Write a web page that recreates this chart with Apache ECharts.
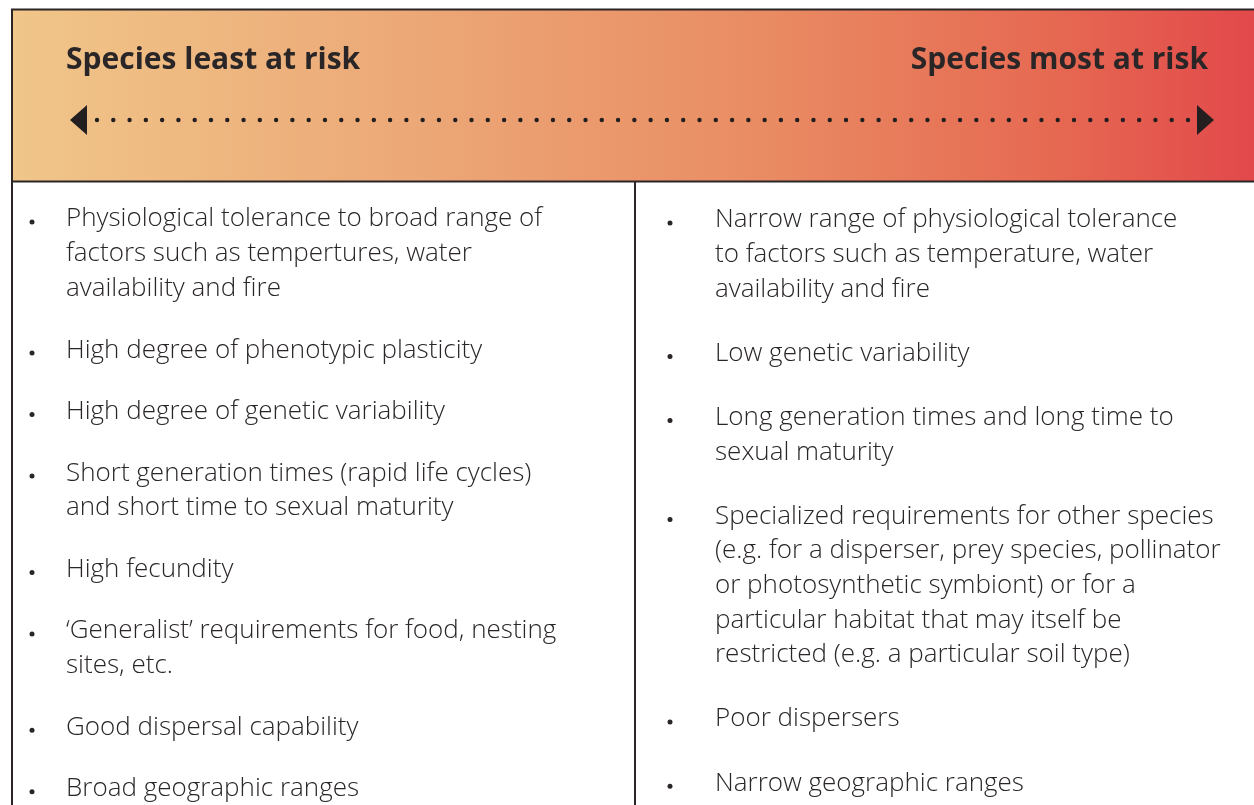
<!DOCTYPE html>
<html>
<head>
<meta charset="utf-8">
<script src="https://cdn.jsdelivr.net/npm/echarts@6/dist/echarts.min.js"></script>
<style>html,body{margin:0;padding:0;background:#fff;}#main{width:1254px;height:805px;}</style>
</head>
<body>
<div id="main"></div>
<script>
const leftTitle = 'Species least at risk';
const rightTitle = 'Species most at risk';
const leftItems = [
  ['Physiological tolerance to broad range of', 'factors such as tempertures, water', 'availability and fire'],
  ['High degree of phenotypic plasticity'],
  ['High degree of genetic variability'],
  ['Short generation times (rapid life cycles)', 'and short time to sexual maturity'],
  ['High fecundity'],
  ['\u2018Generalist\u2019 requirements for food, nesting', 'sites, etc.'],
  ['Good dispersal capability'],
  ['Broad geographic ranges']
];
const rightItems = [
  ['Narrow range of physiological tolerance', 'to factors such as temperature, water', 'availability and fire'],
  ['Low genetic variability'],
  ['Long generation times and long time to', 'sexual maturity'],
  ['Specialized requirements for other species', '(e.g. for a disperser, prey species, pollinator', 'or photosynthetic symbiont) or for a', 'particular habitat that may itself be', 'restricted (e.g. a particular soil type)'],
  ['Poor dispersers'],
  ['Narrow geographic ranges']
];

const chart = echarts.init(document.getElementById('main'), null, {renderer: 'canvas'});
const TXT = '#2a2627';
const bodyFont = '"Open Sans", "Noto Sans", sans-serif';
const g = [];

// header band
g.push({
  type: 'rect', shape: {x: 12, y: 9.5, width: 1260, height: 172},
  style: {
    fill: new echarts.graphic.LinearGradient(0, 0, 1, 0, [
      {offset: 0, color: '#F0C68A'},
      {offset: 0.33, color: '#ECA776'},
      {offset: 0.6, color: '#E98B63'},
      {offset: 0.82, color: '#E66A52'},
      {offset: 1, color: '#E2464A'}
    ]),
    stroke: '#2b2526', lineWidth: 2
  }
});
// left border of body & divider
g.push({type: 'line', shape: {x1: 12, y1: 181, x2: 12, y2: 810}, style: {stroke: '#2b2526', lineWidth: 2}});
g.push({type: 'line', shape: {x1: 635, y1: 181, x2: 635, y2: 810}, style: {stroke: '#2b2526', lineWidth: 2}});

// titles
g.push({type: 'text', x: 66, y: 60, style: {text: leftTitle, font: 'bold 30px "Open Sans", sans-serif', fill: TXT, textVerticalAlign: 'middle', textAlign: 'left'}});
g.push({type: 'text', x: 1208, y: 60, style: {text: rightTitle, font: 'bold 30px "Open Sans", sans-serif', fill: TXT, textVerticalAlign: 'middle', textAlign: 'right'}});

// arrow
g.push({type: 'polygon', shape: {points: [[70, 120], [87, 105], [87, 135]]}, style: {fill: '#231F20'}});
g.push({type: 'polygon', shape: {points: [[1214, 120], [1197, 105], [1197, 135]]}, style: {fill: '#231F20'}});
const dotStart = 97, dotEnd = 1188, nDots = 68;
for (let i = 0; i < nDots; i++) {
  const x = dotStart + (dotEnd - dotStart) * i / (nDots - 1);
  g.push({type: 'circle', shape: {cx: x, cy: 120, r: 2.2}, style: {fill: '#231F20'}});
}

function drawColumn(items, bulletX, textX, y0, lineH, gap) {
  let y = y0;
  items.forEach(lines => {
    g.push({type: 'circle', shape: {cx: bulletX, cy: y + 3, r: 2.5}, style: {fill: TXT}});
    lines.forEach((ln, k) => {
      g.push({type: 'text', x: textX, y: y + k * lineH,
        style: {text: ln, font: '300 26px ' + bodyFont, fill: TXT, textVerticalAlign: 'middle', textAlign: 'left'}});
    });
    y += (lines.length - 1) * lineH + gap;
  });
}
drawColumn(leftItems, 32, 66, 219, 34.8, 61.5);
drawColumn(rightItems, 670, 715, 220, 34.6, 64.2);

chart.setOption({animation: false, graphic: {elements: g}});
</script>
</body>
</html>
